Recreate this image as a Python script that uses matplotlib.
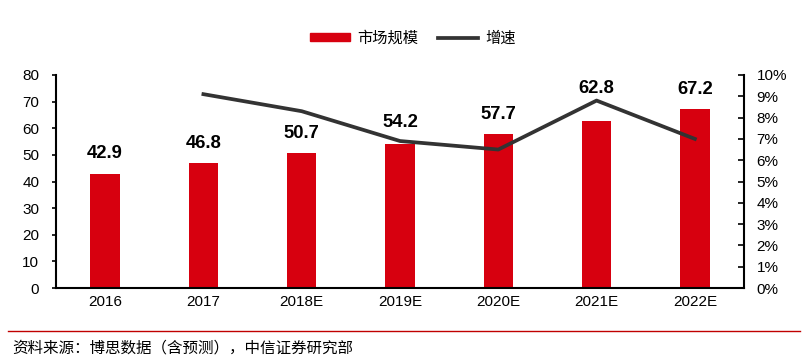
import matplotlib.pyplot as plt
from matplotlib.lines import Line2D
from matplotlib.patches import Patch

plt.rcParams['font.family'] = ['Liberation Sans', 'Noto Sans CJK SC', 'DejaVu Sans']

years = ['2016', '2017', '2018E', '2019E', '2020E', '2021E', '2022E']
market_size = [42.9, 46.8, 50.7, 54.2, 57.7, 62.8, 67.2]
# where each value label sits (left-axis units)
label_y = [50.7, 54.1, 58.2, 62.0, 65.0, 75.1, 74.7]
growth_years = ['2017', '2018E', '2019E', '2020E', '2021E', '2022E']
growth = [9.1, 8.3, 6.9, 6.5, 8.8, 7.0]

fig = plt.figure(figsize=(8.1, 3.63), dpi=100)
ax = fig.add_axes([56 / 810, 1 - 288 / 363, 688 / 810, 213 / 363])

x = list(range(len(years)))
ax.bar(x, market_size, width=0.3, color='#d7000f', zorder=2)

ax.set_xlim(-0.5, len(years) - 0.5)
ax.set_ylim(0, 80)
ax.set_yticks(range(0, 81, 10))
ax.set_xticks(x)
ax.set_xticklabels(years)
ax.tick_params(axis='both', labelsize=11, length=3, width=1.2)
ax.tick_params(axis='x', length=0, pad=5)
ax.tick_params(axis='y', direction='out', pad=9)
for s in ['top', 'right']:
    ax.spines[s].set_visible(False)
ax.spines['left'].set_linewidth(1.5)
ax.spines['bottom'].set_linewidth(1.5)

ax2 = ax.twinx()
gx = [years.index(y) for y in growth_years]
ax2.plot(gx, growth, color='#333333', linewidth=2.7, zorder=3)
ax2.set_ylim(0, 10)
ax2.set_yticks(range(0, 11))
ax2.set_yticklabels([f'{t}%' for t in range(0, 11)])
ax2.tick_params(axis='y', labelsize=11, direction='in', length=4, width=1.2, pad=9)
for s in ['top', 'left', 'bottom']:
    ax2.spines[s].set_visible(False)
ax2.spines['right'].set_linewidth(1.5)

# value labels on top of everything
for xi, v, ly in zip(x, market_size, label_y):
    ax2.text(xi, ly / 8, f'{v:.1f}', ha='center', va='center', fontsize=13.3,
             fontweight='bold', zorder=5)

handles = [Patch(color='#d7000f'), Line2D([0], [0], color='#333333', linewidth=2.7)]
fig.legend(handles, ['市场规模', '增速'], loc='center', bbox_to_anchor=(0.51, 1 - 38 / 363),
           ncol=2, frameon=False, handlelength=2.6, handleheight=0.5,
           columnspacing=1.3, handletextpad=0.5, prop={'family': ['Noto Sans CJK SC'], 'size': 11})

fig.add_artist(Line2D([8 / 810, 800 / 810], [1 - 331 / 363] * 2, color='#c00000', linewidth=1))
fig.text(12 / 810, 1 - 348 / 363, '资料来源：博思数据（含预测），中信证券研究部', fontsize=11.2,
         family=['Noto Sans CJK SC'], va='center', ha='left')

fig.savefig('out.png', dpi=100)
